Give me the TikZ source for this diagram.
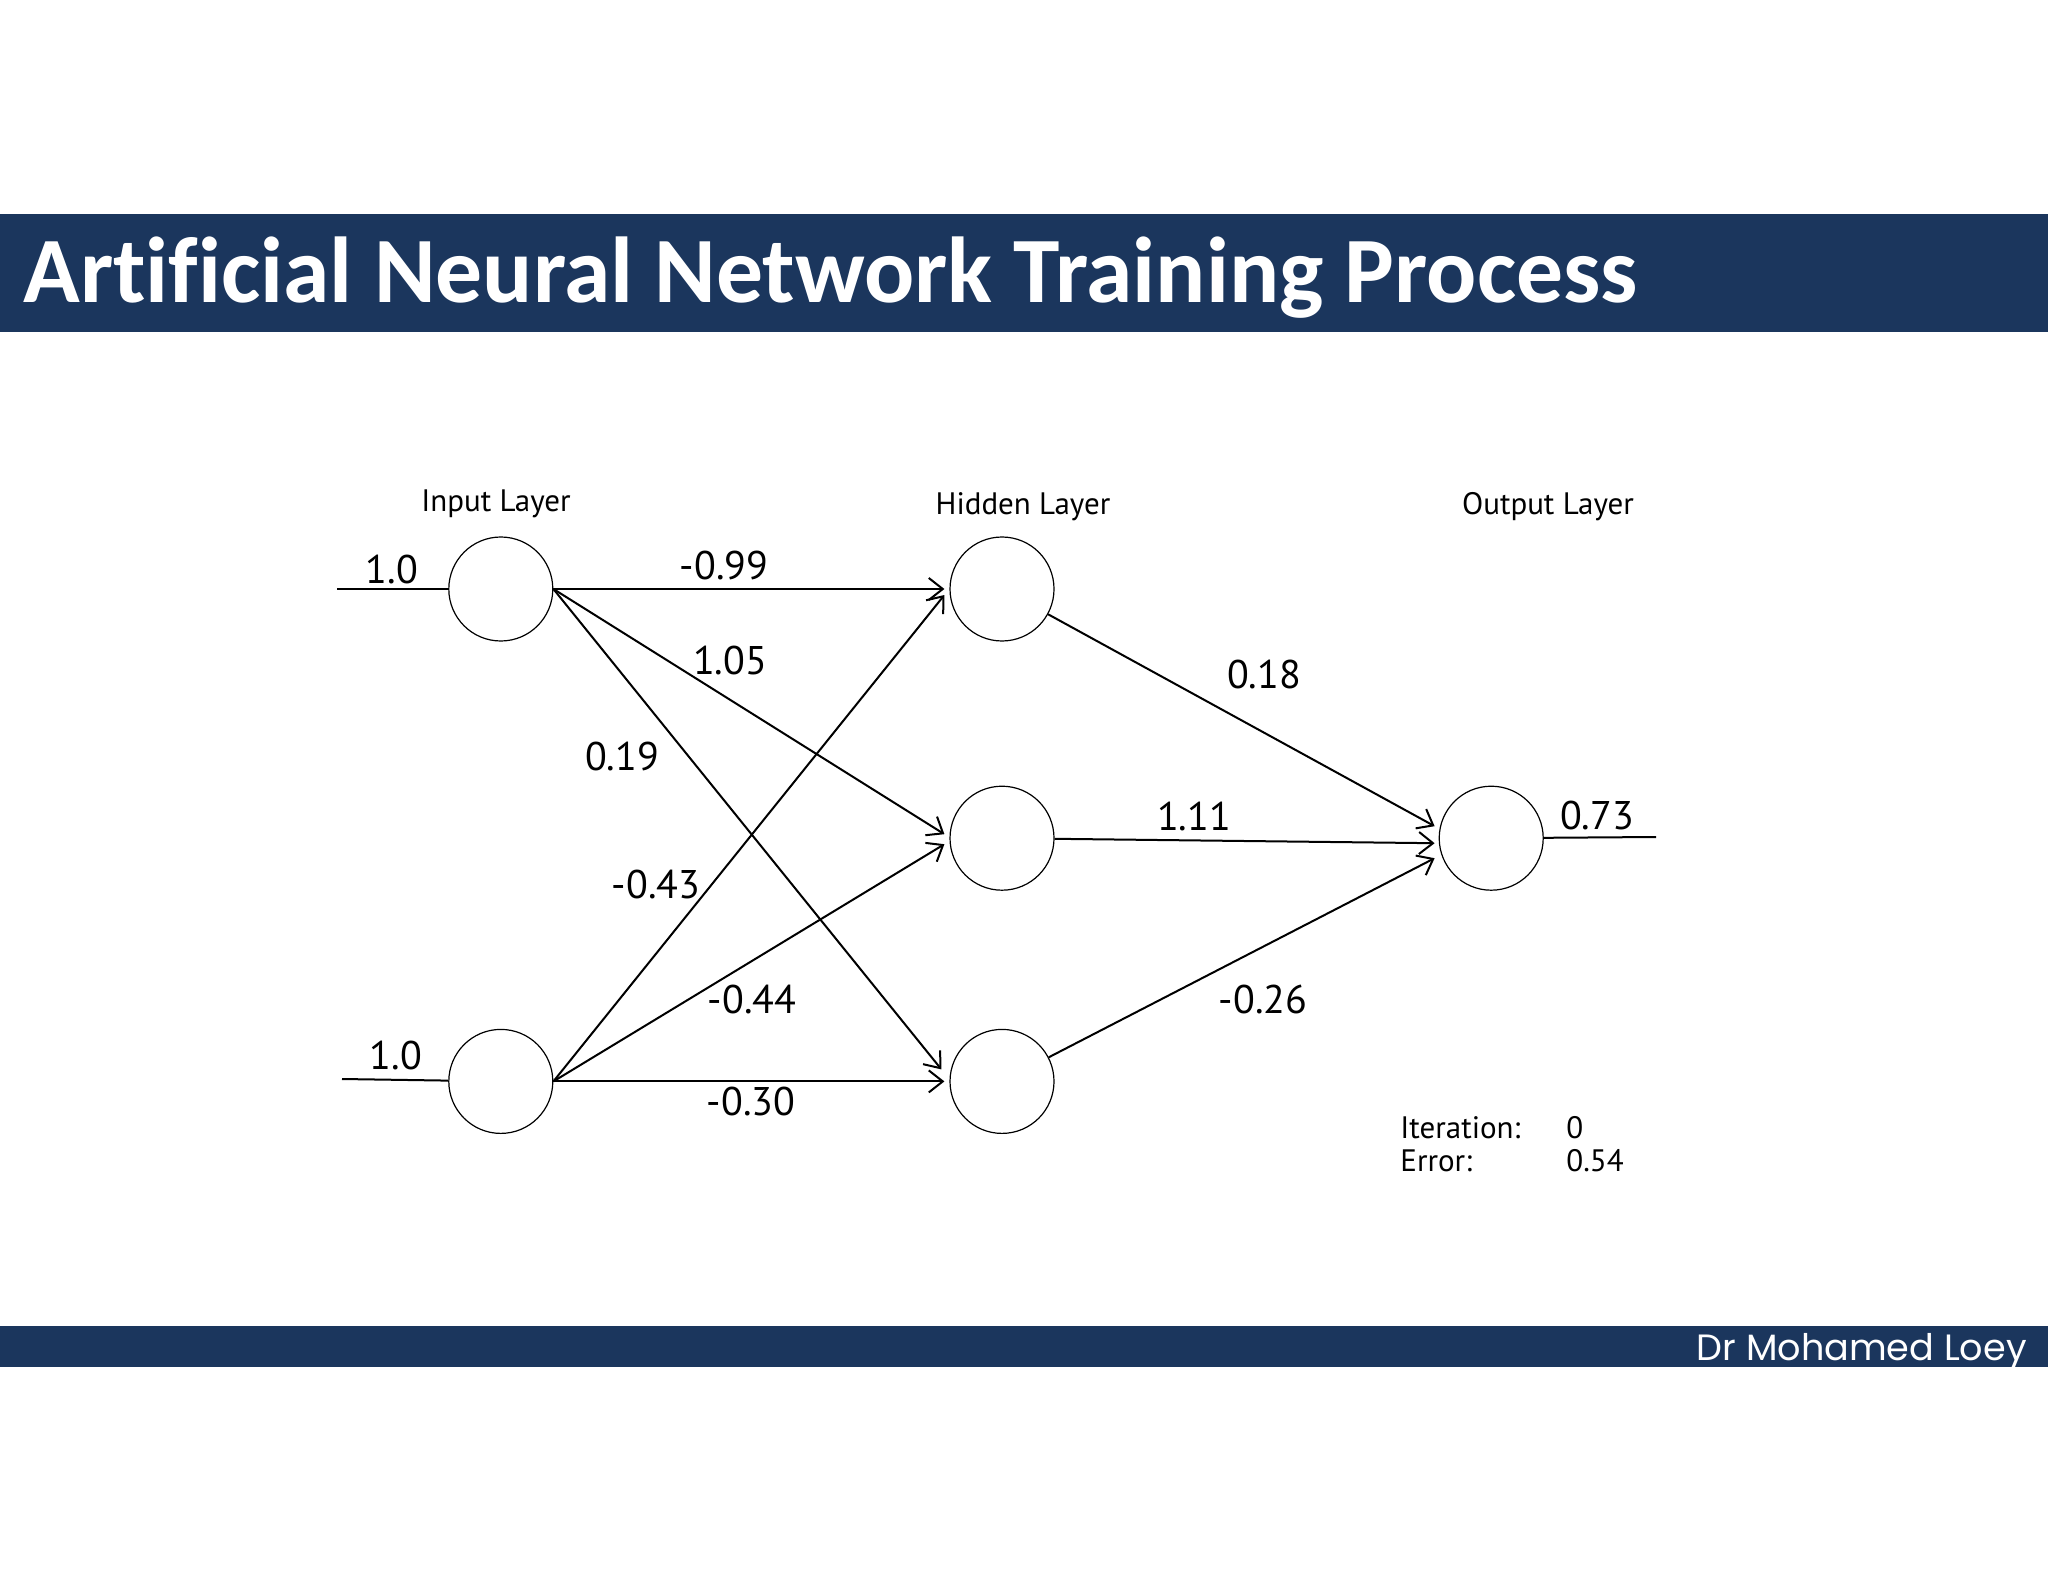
\documentclass[tikz,border=0pt]{standalone}
\usepackage{fontspec}
\setmainfont{PT Sans}
\newfontfamily\titlefont{Carlito}[Ligatures=CommonOff]
\newfontfamily\footfont{Poppins}
\usepackage{tikz}
\usetikzlibrary{positioning,arrows.meta}
\definecolor{barblue}{HTML}{1B365D}

\begin{document}
\begin{tikzpicture}[
  x=0.5pt, y=-0.5pt,
  node distance=70pt and 198pt,
  neuron/.style={draw, circle, minimum size=52pt, inner sep=0pt, line width=0.6pt},
  wt/.style={font=\fontsize{20}{24}\selectfont, inner sep=0pt},
  layer/.style={font=\fontsize{15.5}{18}\selectfont, inner sep=0pt, anchor=base},
  info/.style={font=\fontsize{15.5}{18}\selectfont, inner sep=0pt, anchor=base west},
  arr/.style={line width=1pt, -{Straight Barb[length=7pt,width=11pt]}}]
\useasboundingbox (0,0) rectangle (2048,1582);
\fill[barblue] (0,214) rectangle (2048,332);
\fill[barblue] (0,1326) rectangle (2048,1367);
\node[anchor=base west, text=white, inner sep=0pt, font=\titlefont\bfseries\fontsize{46.8}{50}\selectfont] (title) at (23,303) {Artificial Neural Network Training Process};
\node[anchor=base east, text=white, inner sep=0pt, font=\footfont\fontsize{18.3}{22}\selectfont] (author) at (2027,1360) {Dr Mohamed Loey};
% neurons
\node[neuron] (h1) at (1002,589) {};
\node[neuron, below=72pt of h1] (h2) {};
\node[neuron, below=69pt of h2] (h3) {};
\node[neuron, left=of h1] (i1) {};
\node[neuron, left=of h3] (i2) {};
\node[neuron, right=192pt of h2] (o) {};
\node[layer] (lin) at (496,512) {Input Layer};
\node[layer] (lhid) at (1023,515) {Hidden Layer};
\node[layer] (lout) at (1548,515) {Output Layer};
\coordinate (x1) at (337,589);
\coordinate (x2) at (342,1079);
\coordinate (y) at (1656,837);
\draw[line width=1pt] (x1) -- (i1);
\draw[line width=1pt] (x2) -- (i2);
\draw[line width=1pt] (o) -- (y);
\draw[arr] (i1.east) -- ([xshift=-2.5pt]h1.west);
\draw[arr] (i2.east) -- ([xshift=-2.5pt,yshift=-3pt]h1.west);
\draw[arr] (i1.east) -- ([xshift=-2.5pt,yshift=2pt]h2.west);
\draw[arr] (i2.east) -- ([xshift=-2.5pt,yshift=-3pt]h2.west);
\draw[arr] (i1.east) -- ([xshift=-4pt,yshift=6pt]h3.west);
\draw[arr] (i2.east) -- ([xshift=-2.5pt]h3.west);
\draw[arr] (h1) -- ([xshift=-2pt,yshift=6pt]o.west);
\draw[arr] (h2) -- ([xshift=-2pt,yshift=-2.5pt]o.west);
\draw[arr] (h3) -- ([xshift=-2pt,yshift=-10pt]o.west);
% weights
\node[wt] (in1) at (392,569) {1.0};
\node[wt] (in2) at (396,1055) {1.0};
\node[wt] (w11) at (724,566) {-0.99};
\node[wt] (w12) at (730,660) {1.05};
\node[wt] (w13) at (622,756) {0.19};
\node[wt] (w21) at (656,884) {-0.43};
\node[wt] (w22) at (752,999) {-0.44};
\node[wt] (w23) at (751,1101) {-0.30};
\node[wt] (v1) at (1264,674) {0.18};
\node[wt] (v2) at (1194,816) {1.11};
\node[wt] (v3) at (1263,999) {-0.26};
\node[wt] (out) at (1597,815) {0.73};
\node[info] (iter) at (1400,1138) {Iteration:};
\node[info] (iterv) at (1566,1138) {0};
\node[info] (err) at (1400,1171) {Error:};
\node[info] (errv) at (1566,1171) {0.54};
\end{tikzpicture}
\end{document}
